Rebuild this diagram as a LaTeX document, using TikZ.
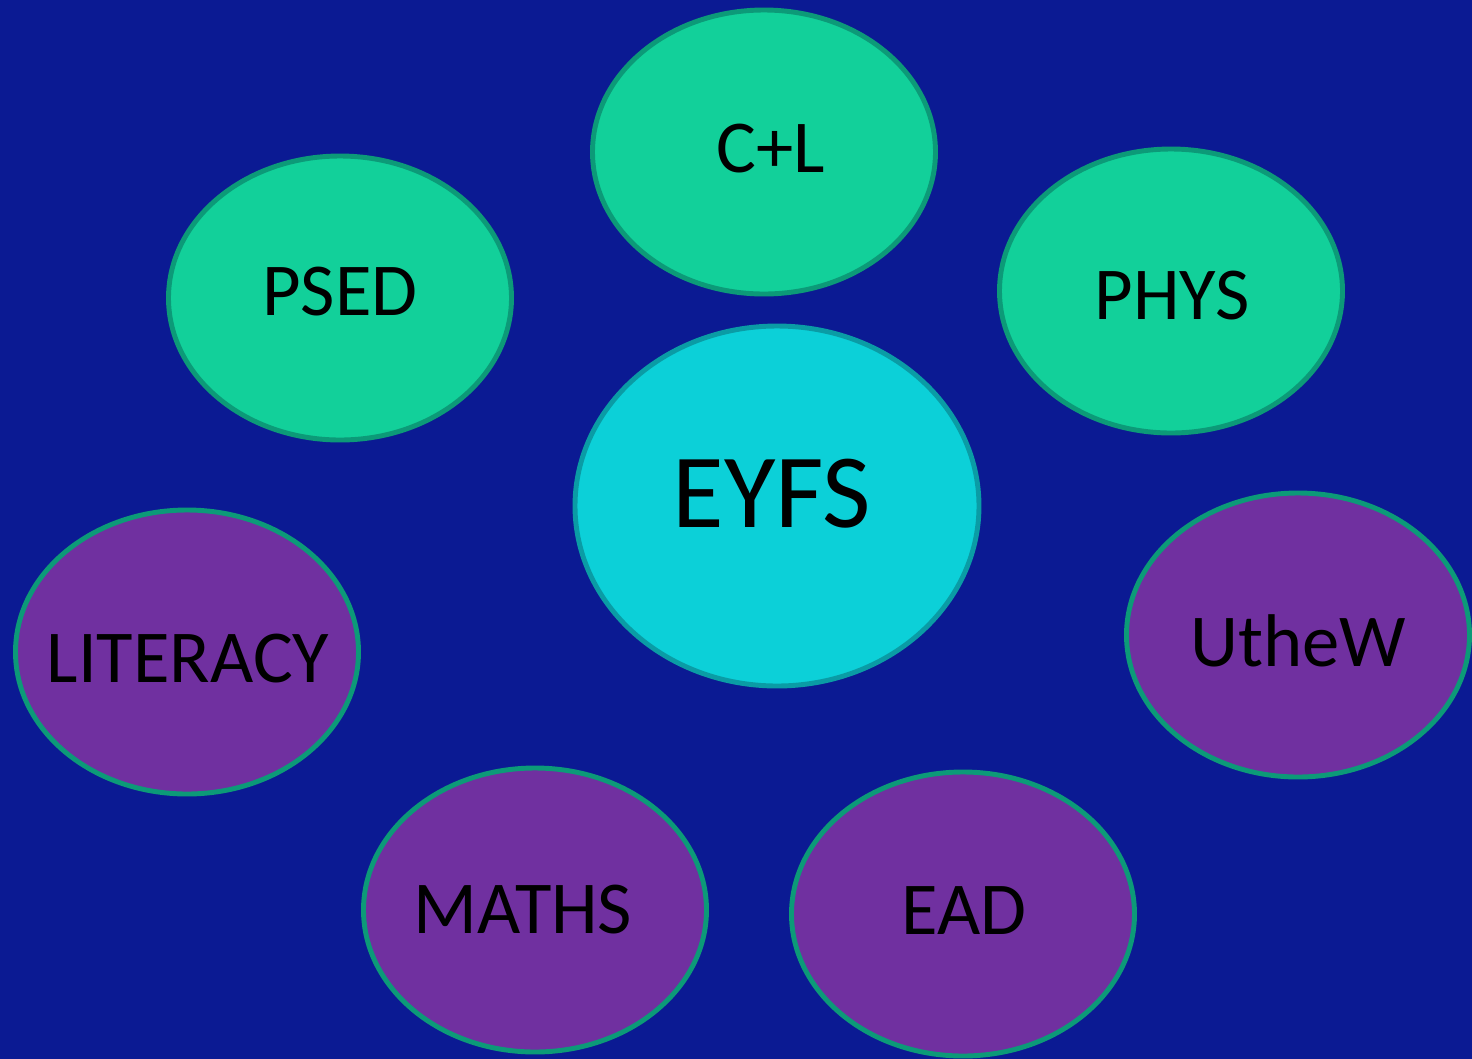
\documentclass[tikz,border=0pt]{standalone}
\usepackage{fontspec}
\setmainfont{Carlito}
\usetikzlibrary{shapes.geometric}
\definecolor{bgblue}{HTML}{0B1A93}
\definecolor{greenfill}{HTML}{12D09A}
\definecolor{greenline}{HTML}{0C9A78}
\definecolor{cyanfill}{HTML}{0CD0D8}
\definecolor{cyanline}{HTML}{0A9CA5}
\definecolor{purplefill}{HTML}{7030A0}
\begin{document}
\begin{tikzpicture}[x=0.02cm,y=-0.02cm,
  bubble/.style={ellipse,inner sep=0pt,line width=2.8pt,draw=greenline,
    minimum width=343*0.02cm,minimum height=284*0.02cm},
  greenb/.style={bubble,fill=greenfill},
  purpleb/.style={bubble,fill=purplefill},
  centreb/.style={bubble,fill=cyanfill,draw=cyanline,
    minimum width=404*0.02cm,minimum height=360*0.02cm},
  lbl/.style={inner sep=0pt,text=black,font=\fontsize{42.5}{50}\selectfont},
  biglbl/.style={inner sep=0pt,text=black,font=\fontsize{60}{72}\selectfont}]
\fill[bgblue] (0,0) rectangle (1472,1059);
\useasboundingbox (0,0) rectangle (1472,1059);
\node[greenb,label={[lbl,shift={(7,-3)}]center:C+L}] (cl) at (764,152) {};
\node[greenb,label={[lbl,shift={(0,-6)}]center:PSED}] (psed) at (340,298) {};
\node[greenb,label={[lbl,shift={(1,5)}]center:PHYS}] (phys) at (1171,291) {};
\node[centreb,label={[biglbl,shift={(-5,-12)}]center:EYFS}] (eyfs) at (777,506) {};
\node[purpleb,label={[lbl,shift={(1,7)}]center:LITERACY}] (lit) at (187,652) {};
\node[purpleb,label={[lbl,shift={(0,6)}]center:UtheW}] (uthew) at (1298,635) {};
\node[purpleb,label={[lbl,shift={(-12,0)}]center:MATHS}] (maths) at (535,910) {};
\node[purpleb,label={[lbl,shift={(1,-3)}]center:EAD}] (ead) at (963,914) {};
\end{tikzpicture}
\end{document}
